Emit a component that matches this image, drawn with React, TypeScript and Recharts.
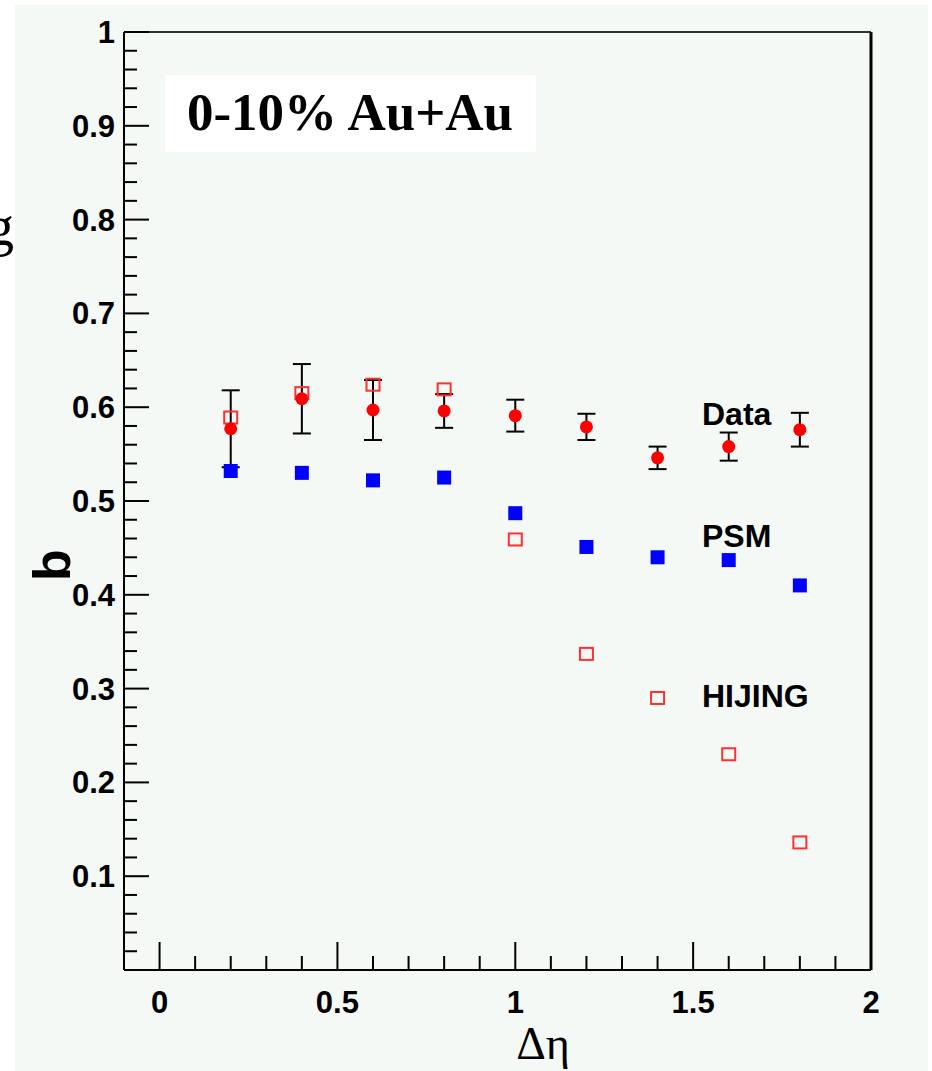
import React from 'react';
import { ScatterChart, Scatter, XAxis, YAxis, ErrorBar, ReferenceLine } from 'recharts';

// Δη bins
const deta = [0.2, 0.4, 0.6, 0.8, 1.0, 1.2, 1.4, 1.6, 1.8];

// b values
const dataB = [0.577, 0.609, 0.597, 0.596, 0.591, 0.579, 0.546, 0.558, 0.576];
const dataErr = [0.041, 0.037, 0.032, 0.018, 0.017, 0.014, 0.012, 0.015, 0.018];
const psmB = [0.532, 0.53, 0.522, 0.525, 0.487, 0.451, 0.44, 0.437, 0.41];
const hijingB = [0.589, 0.615, 0.624, 0.619, 0.459, 0.337, 0.29, 0.23, 0.136];

// axis ticks
const yMajor = [0, 0.1, 0.2, 0.3, 0.4, 0.5, 0.6, 0.7, 0.8, 0.9, 1];
const yLabels: Record<string, string> = {
  '0.1': '0.1', '0.2': '0.2', '0.3': '0.3', '0.4': '0.4', '0.5': '0.5',
  '0.6': '0.6', '0.7': '0.7', '0.8': '0.8', '0.9': '0.9', '1': '1',
};
const xMajor = [0, 0.5, 1, 1.5, 2];
const xLabels: Record<string, string> = { '0': '0', '0.5': '0.5', '1': '1', '1.5': '1.5', '2': '2' };

const yTicks: number[] = [];
for (let i = 0; i <= 50; i++) yTicks.push(Math.round(i * 2) / 100);
const xTicks: number[] = [];
for (let i = 0; i <= 20; i++) xTicks.push(Math.round(i * 10) / 100);

const dataPts = deta.map((x, i) => ({ x, y: dataB[i], err: dataErr[i] }));
const psmPts = deta.map((x, i) => ({ x, y: psmB[i] }));
const hijingPts = deta.map((x, i) => ({ x, y: hijingB[i] }));

const SANS = '"Liberation Sans", Arial, Helvetica, sans-serif';
const SERIF = '"Liberation Serif", "Times New Roman", serif';

const isMajor = (v: number, list: number[]) => list.some((m) => Math.abs(m - v) < 1e-6);

const YTick = (props: any) => {
  const { x, y, payload } = props;
  const v = payload.value;
  const major = isMajor(v, yMajor);
  const label = yLabels[String(Math.round(v * 100) / 100)];
  return (
    <g>
      <line x1={x} x2={x + (major ? 25 : 13)} y1={y} y2={y} stroke="#000" strokeWidth={2} />
      {major && label && (
        <text x={x - 9} y={y + 11} textAnchor="end" fontFamily={SANS} fontWeight="bold" fontSize={31} fill="#000">
          {label}
        </text>
      )}
    </g>
  );
};

const XTick = (props: any) => {
  const { x, y, payload } = props;
  const v = payload.value;
  const major = isMajor(v, xMajor);
  const label = xLabels[String(Math.round(v * 100) / 100)];
  return (
    <g>
      <line x1={x} x2={x} y1={y} y2={y - (major ? 28 : 14)} stroke="#000" strokeWidth={2} />
      {major && label && (
        <text x={x} y={y + 43} textAnchor="middle" fontFamily={SANS} fontWeight="bold" fontSize={31} fill="#000">
          {label}
        </text>
      )}
    </g>
  );
};

const RedDot = (props: any) => {
  const { cx, cy } = props;
  return <circle cx={cx} cy={cy} r={6.5} fill="#ff0000" />;
};

const BlueSquare = (props: any) => {
  const { cx, cy } = props;
  return <rect x={cx - 7} y={cy - 7} width={14} height={14} fill="#0000ff" />;
};

const OpenSquare = (props: any) => {
  const { cx, cy } = props;
  return <rect x={cx - 6.5} y={cy - 6} width={13} height={12} fill="none" stroke="#ff3030" strokeWidth={2} />;
};

export default function App() {
  return (
    <div style={{ position: 'absolute', left: 0, top: 0, width: 932, height: 1071, background: '#fff', overflow: 'hidden' }}>
      <div style={{ position: 'absolute', left: 15, top: 5, width: 913, height: 1066, background: '#f5f9f6' }} />
      <div
        style={{
          position: 'absolute', left: -14, top: 198, fontFamily: SERIF, fontSize: 56, lineHeight: '56px', color: '#000',
        }}
      >
        g
      </div>
      <div style={{ position: 'absolute', left: 0, top: 0 }}>
        <ScatterChart width={932} height={1071} margin={{ top: 32, right: 61, bottom: 100, left: 123 }}>
          <XAxis
            type="number"
            dataKey="x"
            domain={[-0.1, 2]}
            ticks={xTicks}
            interval={0}
            tick={<XTick />}
            tickLine={false}
            tickSize={0}
            tickMargin={0}
            height={1}
            axisLine={{ stroke: '#000', strokeWidth: 2 }}
            allowDataOverflow
          />
          <YAxis
            type="number"
            dataKey="y"
            domain={[0, 1]}
            ticks={yTicks}
            interval={0}
            tick={<YTick />}
            tickLine={false}
            tickSize={0}
            tickMargin={0}
            width={1}
            axisLine={{ stroke: '#000', strokeWidth: 2 }}
            allowDataOverflow
          />
          <ReferenceLine y={1} stroke="#333" strokeWidth={2} />
          <ReferenceLine x={2} stroke="#000" strokeWidth={3} />
          <Scatter name="HIJING" data={hijingPts} shape={<OpenSquare />} isAnimationActive={false} />
          <Scatter name="Data" data={dataPts} shape={<RedDot />} isAnimationActive={false}>
            <ErrorBar dataKey="err" direction="y" width={9} stroke="#000" strokeWidth={2} />
          </Scatter>
          <Scatter name="PSM" data={psmPts} shape={<BlueSquare />} isAnimationActive={false} />
        </ScatterChart>
      </div>
      <svg width={932} height={1071} style={{ position: 'absolute', left: 0, top: 0, pointerEvents: 'none' }}>
        <rect x={165} y={75} width={371} height={77} fill="#ffffff" />
        <text x={350} y={130} textAnchor="middle" fontFamily={SERIF} fontWeight="bold" fontSize={53} fill="#000">
          0-10% Au+Au
        </text>
        <text x={702} y={425} fontFamily={SANS} fontWeight="bold" fontSize={32} fill="#000">Data</text>
        <text x={702} y={547} fontFamily={SANS} fontWeight="bold" fontSize={32} fill="#000">PSM</text>
        <text x={702} y={707} fontFamily={SANS} fontWeight="bold" fontSize={32} fill="#000">HIJING</text>
        <text
          x={70}
          y={565}
          transform="rotate(-90 70 565)"
          textAnchor="middle"
          fontFamily={SANS}
          fontWeight="bold"
          fontSize={52}
          fill="#000"
        >
          b
        </text>
        <text x={543} y={1059} textAnchor="middle" fontFamily={SERIF} fontSize={46} fill="#000">
          Δη
        </text>
      </svg>
    </div>
  );
}
